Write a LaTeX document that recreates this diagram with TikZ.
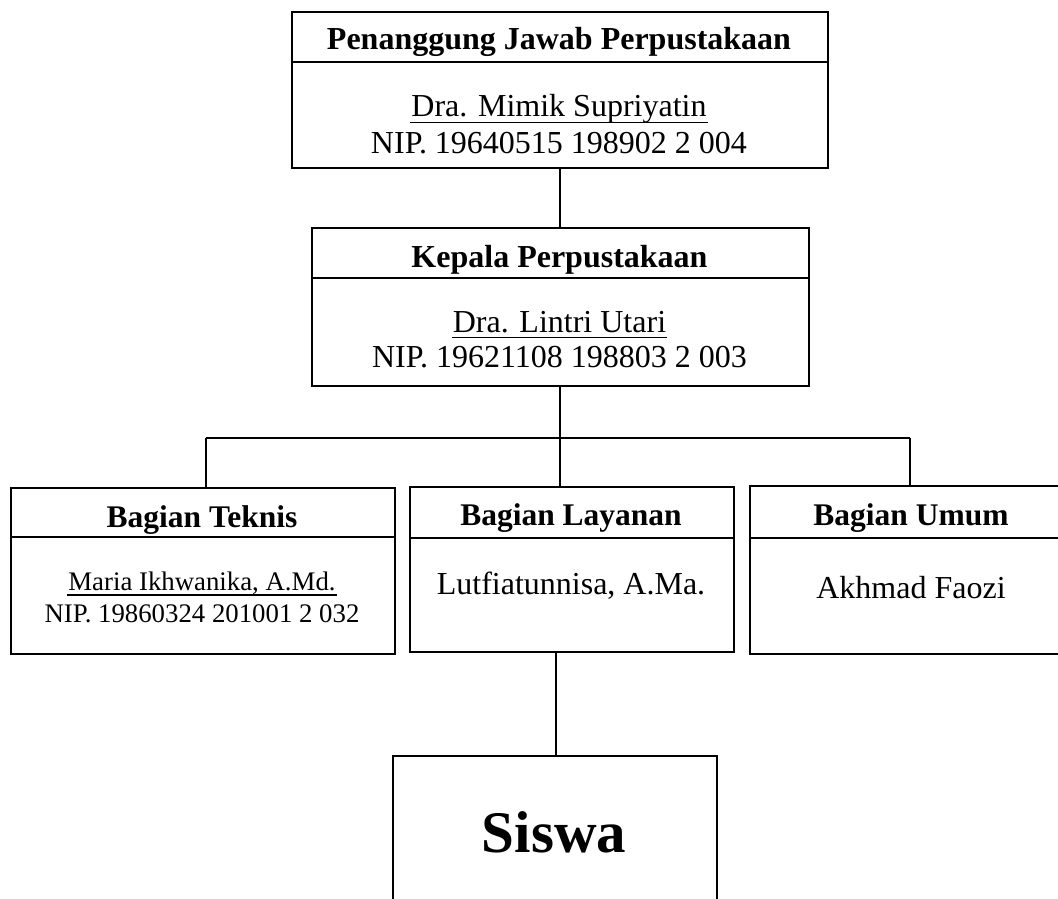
\documentclass[tikz,border=0pt]{standalone}
\usepackage{fontspec}
\setmainfont{Liberation Serif}
\begin{document}
\begin{tikzpicture}[x=1pt,y=-1pt, line width=2pt,
  box/.style={draw, rectangle, inner sep=0pt, anchor=north west},
  openbox/.style={rectangle, inner sep=0pt, anchor=north west},
  ttl/.style={anchor=base, inner sep=0pt, font=\bfseries\fontsize{32}{38}\selectfont},
  ttlb/.style={anchor=base, inner sep=0pt, font=\bfseries\fontsize{31.5}{38}\selectfont},
  txt/.style={anchor=base, inner sep=0pt, font=\fontsize{32}{38}\selectfont},
  sml/.style={anchor=base, inner sep=0pt, font=\fontsize{26.8}{32}\selectfont},
  big/.style={anchor=base, inner sep=0pt, font=\bfseries\fontsize{59}{70}\selectfont},
  uline/.style={line width=1.4pt},
  conn/.style={line width=2pt}]
\useasboundingbox (0,0) rectangle (1058,899);

% Penanggung Jawab
\node[box, minimum width=536pt, minimum height=156pt] (pj) at (291,11) {};
\draw (pj.west |- 0,62) -- (pj.east |- 0,62);
\node[ttl] (pjt) at (559,50) {Penanggung Jawab Perpustakaan};
\node[txt] (pjn) at (559,117) {Dra. Mimik Supriyatin};
\draw[uline] ([yshift=-5.5pt]pjn.base west) -- ([yshift=-5.5pt]pjn.base east);
\node[txt] (pjp) at (559,153) {NIP. 19640515 198902 2 004};

% Kepala
\node[box, minimum width=497pt, minimum height=158pt] (kp) at (311,227) {};
\draw (kp.west |- 0,278) -- (kp.east |- 0,278);
\node[ttl] (kpt) at (559.5,267) {Kepala Perpustakaan};
\node[txt] (kpn) at (559.5,332) {Dra. Lintri Utari};
\draw[uline] ([yshift=-5.5pt]kpn.base west) -- ([yshift=-5.5pt]kpn.base east);
\node[txt] (kpp) at (559.5,367) {NIP. 19621108 198803 2 003};

% Teknis
\node[box, minimum width=384pt, minimum height=166pt] (tk) at (10,487) {};
\draw (tk.west |- 0,537) -- (tk.east |- 0,537);
\node[ttlb] (tkt) at (202,527) {Bagian Teknis};
\node[sml] (tkn) at (202,590) {Maria Ikhwanika, A.Md.};
\draw[uline] ([yshift=-5pt]tkn.base west) -- ([yshift=-5pt]tkn.base east);
\node[sml] (tkp) at (202,622) {NIP. 19860324 201001 2 032};

% Layanan
\node[box, minimum width=324pt, minimum height=165pt] (ly) at (409,486) {};
\draw (ly.west |- 0,538) -- (ly.east |- 0,538);
\node[ttlb] (lyt) at (571,525) {Bagian Layanan};
\node[txt] (lyn) at (571,594) {Lutfiatunnisa, A.Ma.};

% Umum (cut by the right edge)
\node[openbox, minimum width=320pt, minimum height=166pt] (um) at (750,486) {};
\draw (um.north east) -- (um.north west) -- (um.south west) -- (um.south east);
\draw (um.west |- 0,538) -- (um.east |- 0,538);
\node[ttlb] (umt) at (911,525) {Bagian Umum};
\node[txt] (umn) at (911,598) {Akhmad Faozi};

% Siswa (cut by the bottom edge)
\node[openbox, minimum width=322pt, minimum height=160pt] (sw) at (393,756) {};
\draw (sw.south west) -- (sw.north west) -- (sw.north east) -- (sw.south east);
\node[big] (swt) at (554,852) {Siswa};

% connectors
\coordinate (cx) at (560,0);
\coordinate (sx) at (556,0);
\coordinate (bl) at (206,438);
\coordinate (br) at (910,438);
\coordinate (bm) at (560,438);
\draw[conn] (pj.south -| cx) -- (kp.north -| cx);
\draw[conn] (kp.south -| cx) -- (bm);
\draw[conn] (bl) -- (br);
\draw[conn] (bl) -- (bl |- tk.north);
\draw[conn] (br) -- (br |- um.north);
\draw[conn] (bm) -- (bm |- ly.north);
\draw[conn] (ly.south -| sx) -- (sw.north -| sx);
\end{tikzpicture}
\end{document}
